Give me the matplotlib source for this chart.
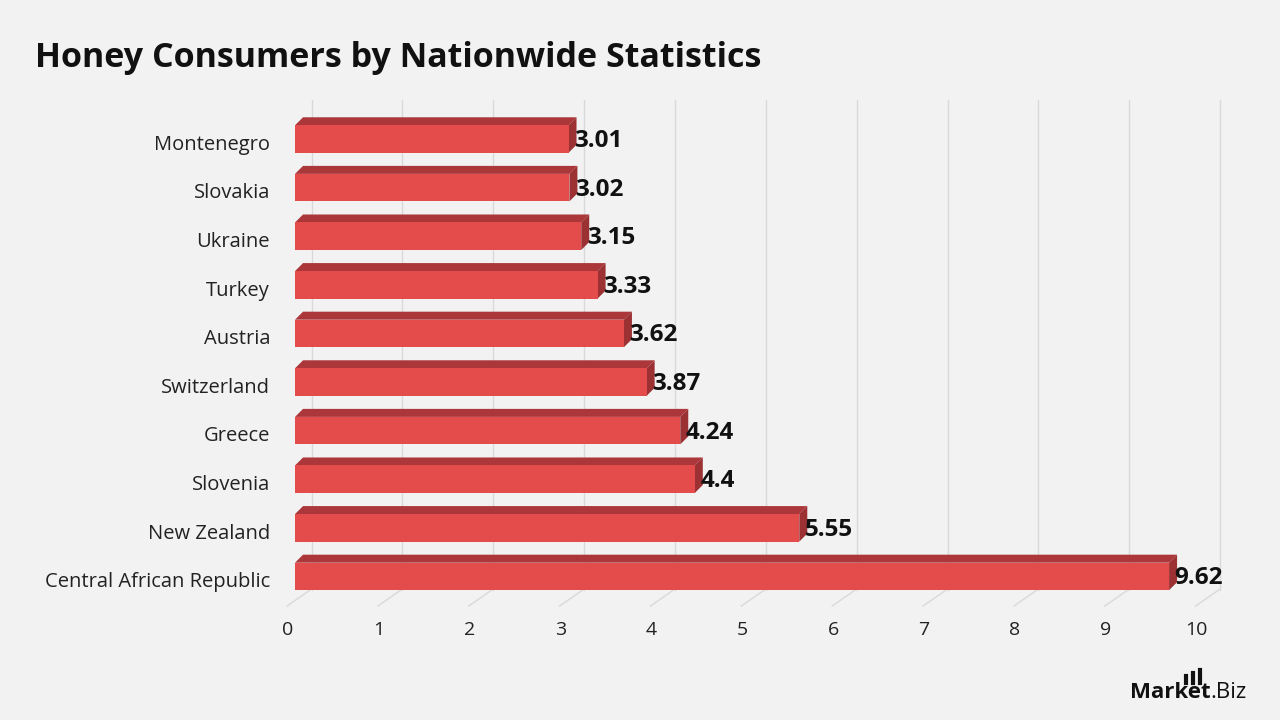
import matplotlib.pyplot as plt
from matplotlib.patches import Polygon, Rectangle

countries = ['Montenegro', 'Slovakia', 'Ukraine', 'Turkey', 'Austria', 'Switzerland',
             'Greece', 'Slovenia', 'New Zealand', 'Central African Republic']
values = [3.01, 3.02, 3.15, 3.33, 3.62, 3.87, 4.24, 4.4, 5.55, 9.62]
ticks = [0, 1, 2, 3, 4, 5, 6, 7, 8, 9, 10]

bg = '#f2f2f2'
front_col = '#e44b4b'
top_col = '#ab373a'
side_col = '#9c3134'
grid_col = '#d9d9d9'

plt.rcParams['font.family'] = ['Open Sans', 'DejaVu Sans']

fig = plt.figure(figsize=(12.8, 7.2), dpi=100, facecolor=bg)
ax = fig.add_axes([0.2092, 0.1319, 0.7666, 0.7425])
ax.set_facecolor(bg)
ax.set_xlim(-0.3, 10.5)
ax.set_ylim(10.0, -1.0)
ax.axis('off')

# depth offsets in data units
px_x = 90.85
px_y = 48.6
h = 27.5 / px_y
dx = 8 / px_x
dy = 8 / px_y
wall = 16.5 / px_x

# back wall gridlines and floor lines
for t in ticks:
    ax.plot([t + wall, t + wall], [(100 - 139) / px_y, (590 - 139) / px_y],
            color=grid_col, lw=1, zorder=1)
    ax.plot([t - 8 / px_x, t + wall], [(606 - 139) / px_y, (589 - 139) / px_y],
            color=grid_col, lw=1, zorder=1)
    ax.text(t - 7 / px_x, (630 - 139) / px_y, str(t), ha='center', va='center',
            fontsize=14, color='#222222', clip_on=False)

for i, (name, v) in enumerate(zip(countries, values)):
    y0 = i - h / 2
    y1 = i + h / 2
    ax.add_patch(Polygon([(0, y0), (dx, y0 - dy), (v + dx, y0 - dy), (v, y0)],
                         closed=True, facecolor=top_col, edgecolor='none', zorder=3))
    ax.add_patch(Polygon([(v, y0), (v + dx, y0 - dy), (v + dx, y1 - dy), (v, y1)],
                         closed=True, facecolor=side_col, edgecolor='none', zorder=3))
    ax.add_patch(Rectangle((0, y0), v, h, facecolor=front_col, edgecolor='none', zorder=4))
    ax.text(v + 0.06, i + 0.04, f'{v:g}', ha='left', va='center', fontsize=17.5,
            fontweight='bold', color='#111111', zorder=5)
    ax.text(-25 / px_x, i + 0.12, name, ha='right', va='center', fontsize=14.5,
            color='#222222', clip_on=False)

fig.text(35 / 1280, 1 - 58 / 720, 'Honey Consumers by Nationwide Statistics',
         fontsize=24.5, fontweight='bold', color='#111111', va='center', ha='left')

# logo
fig.text(1130 / 1280, 1 - 693 / 720, 'Market', fontsize=16, fontweight='bold',
         color='#111111', va='center', ha='left')
fig.text(1210 / 1280, 1 - 693 / 720, '.Biz', fontsize=16, color='#111111',
         va='center', ha='left')
for k, hh in enumerate([7, 10, 13]):
    xx = (1186 + k * 7) / 1280
    fig.add_artist(plt.Line2D([xx, xx], [1 - 683 / 720, 1 - (683 - hh) / 720],
                              color='#111111', lw=3))

fig.savefig('out.png', dpi=100, facecolor=bg)
